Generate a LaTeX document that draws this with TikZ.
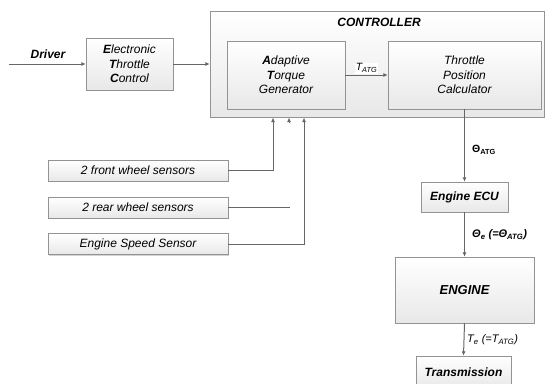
\documentclass[tikz,border=0pt]{standalone}
\usepackage{fontspec}
\setmainfont{Liberation Sans}
\usetikzlibrary{arrows.meta,shadows}
\begin{document}
\begin{tikzpicture}[x=1pt,y=-1pt,
  box/.style={draw=gray!85, top color=white, bottom color=gray!18,
    drop shadow={shadow xshift=1.2pt,shadow yshift=-1.2pt,opacity=0.35,fill=gray},
    font=\fontsize{12}{14.5}\selectfont\itshape, align=center, inner sep=0pt},
  conn/.style={draw=gray!80!black, line width=1pt},
  arr/.style={conn, -{Latex[length=4.5pt,width=4pt]}},
  lbl/.style={font=\fontsize{10.5}{12}\selectfont\itshape, inner sep=1pt}]
\useasboundingbox (0,0) rectangle (545,383);
\clip (0,0) rectangle (545,383);
% controller
\node[box, minimum width=334pt, minimum height=106pt] (ctrl) at (377,64) {};
\node[lbl, font=\fontsize{12}{14}\selectfont\bfseries\itshape] (ctrllbl) at (379,22) {CONTROLLER};
\node[box, minimum width=118pt, minimum height=68pt] (atg) at (286,75)
  {\textbf{A}daptive\\\textbf{T}orque\\Generator};
\node[box, minimum width=153pt, minimum height=68pt] (tpc) at (464.5,75)
  {Throttle\\Position\\Calculator};
\draw[arr] (atg.east) -- node[lbl, above, fill=white, yshift=1pt] (tatg) {T\textsubscript{ATG}} (tpc.west);
% ETC
\node[box, minimum width=87pt, minimum height=52pt] (etc) at (129.5,64)
  {\textbf{E}lectronic\\\textbf{T}hrottle\\\textbf{C}ontrol};
\coordinate (drv) at (9,64);
\draw[arr] (drv) -- (etc.west);
\node[lbl, font=\fontsize{12}{14}\selectfont\bfseries\itshape] (drvlbl) at (48,54) {Driver};
\draw[arr] (etc.east) -- (ctrl.west);
% sensors
\node[box, minimum width=180pt, minimum height=21pt] (front) at (138,170.5) {2 front wheel sensors};
\node[box, minimum width=180pt, minimum height=21pt] (rear) at (138,207.5) {2 rear wheel sensors};
\node[box, minimum width=180pt, minimum height=21pt] (ess) at (138,244) {Engine Speed Sensor};
\coordinate (a1) at (273,117.5);
\coordinate (a2) at (289,117.5);
\coordinate (a2s) at (289,122);
\coordinate (a3) at (304,117.5);
\coordinate (rearend) at (290,207.5);
\draw[arr] (front.east) -| (a1);
\draw[arr] (a2s) -- (a2);
\draw[conn] (rear.east) -- (rearend);
\draw[arr] (ess.east) -| (a3);
% right column
\node[box, minimum width=87pt, minimum height=30pt, font=\fontsize{12}{14}\selectfont\bfseries\itshape] (ecu) at (464.5,197) {Engine ECU};
\node[box, minimum width=139pt, minimum height=66pt, font=\fontsize{13}{15}\selectfont\bfseries\itshape] (engine) at (464.5,290) {ENGINE};
\node[box, minimum width=95pt, minimum height=32pt, font=\fontsize{12}{14}\selectfont\bfseries\itshape] (trans) at (463.5,372) {Transmission};
\draw[arr] (tpc.south) -- (ecu.north);
\draw[arr] (ecu.south) -- (engine.north);
\draw[arr] (engine.south) -- (trans.north);
\node[lbl, anchor=west, font=\fontsize{10.5}{12}\selectfont\bfseries] (l1) at (471,150) {Θ\textsubscript{ATG}};
\node[lbl, anchor=west, font=\fontsize{11}{12}\selectfont\bfseries\itshape] (l2) at (471,235) {Θ\textsubscript{e} (=Θ\textsubscript{ATG})};
\node[lbl, anchor=west, font=\fontsize{11}{12}\selectfont\itshape] (l3) at (466,340) {T\textsubscript{e} (=T\textsubscript{ATG})};
\end{tikzpicture}
\end{document}
